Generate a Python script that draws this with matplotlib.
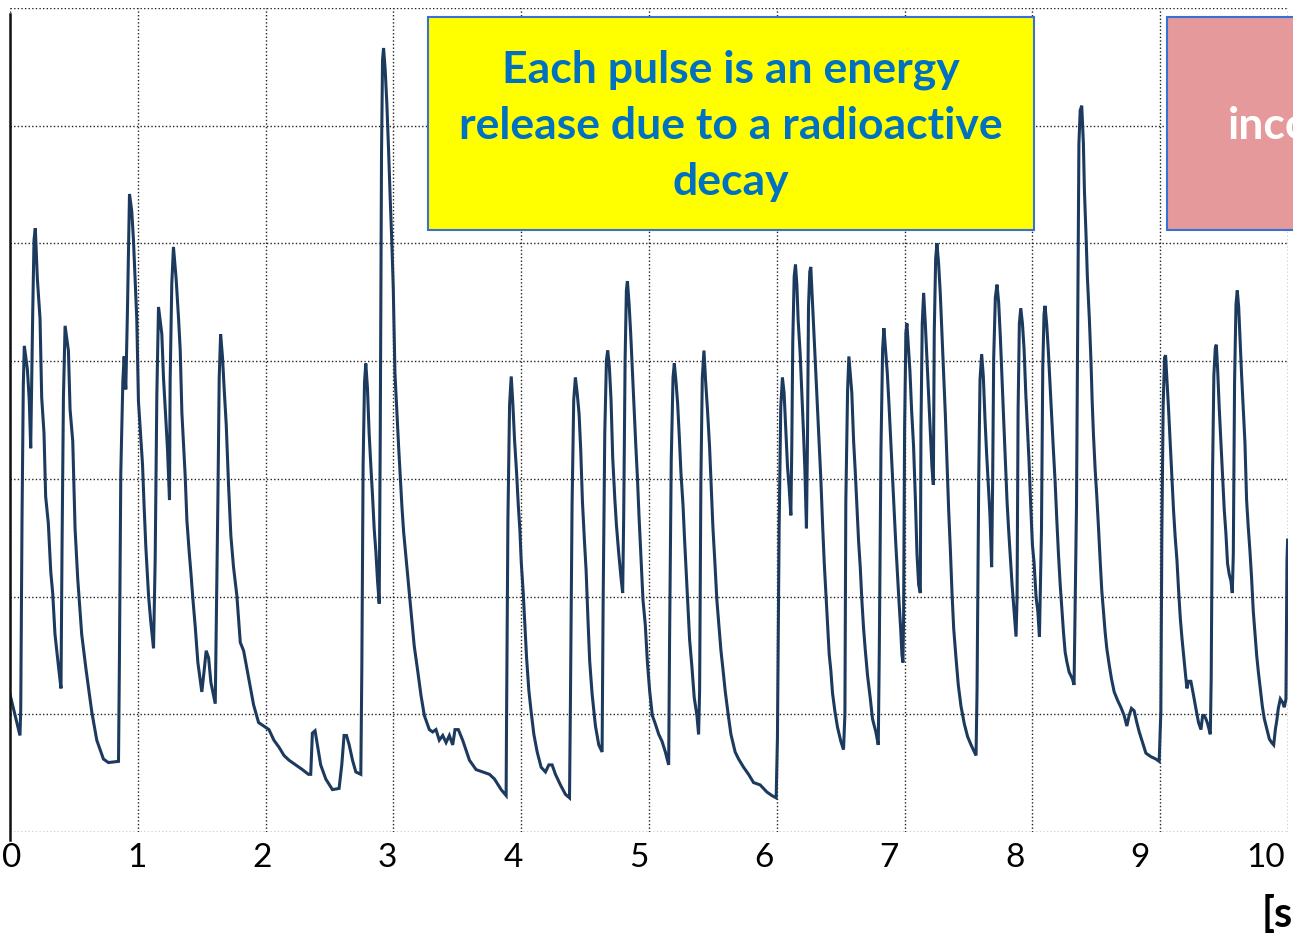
import matplotlib
matplotlib.use("Agg")
import matplotlib.pyplot as plt
from matplotlib.patches import Rectangle

# ---- data: detector signal vs time [s] ----
time_s = [
    0.000, 0.078, 0.084, 0.094, 0.104, 0.112, 0.136, 0.151, 0.162, 0.178, 0.188, 0.198, 0.214, 0.235, 0.248,
    0.266, 0.279, 0.300, 0.319, 0.334, 0.352, 0.379, 0.399, 0.407, 0.418, 0.431, 0.457, 0.470, 0.491, 0.509,
    0.530, 0.561, 0.595, 0.640, 0.679, 0.731, 0.770, 0.849, 0.856, 0.867, 0.883, 0.893, 0.906, 0.919, 0.935,
    0.953, 0.966, 0.979, 0.992, 1.005, 1.023, 1.037, 1.050, 1.063, 1.084, 1.102, 1.123, 1.136, 1.149, 1.162,
    1.188, 1.201, 1.219, 1.232, 1.248, 1.253, 1.266, 1.279, 1.300, 1.319, 1.332, 1.345, 1.358, 1.371, 1.384,
    1.402, 1.415, 1.431, 1.449, 1.470, 1.501, 1.520, 1.535, 1.554, 1.572, 1.606, 1.627, 1.637, 1.648, 1.663,
    1.676, 1.692, 1.710, 1.728, 1.749, 1.775, 1.802, 1.828, 1.867, 1.906, 1.945,
    2.026, 2.065, 2.105, 2.144, 2.183, 2.235, 2.288, 2.335, 2.353, 2.366, 2.387, 2.405, 2.431, 2.471, 2.523,
    2.575, 2.596, 2.614, 2.633, 2.654, 2.680, 2.706, 2.745, 2.753, 2.763, 2.774, 2.784, 2.797, 2.810, 2.824,
    2.837, 2.850, 2.863, 2.876, 2.889, 2.897, 2.907, 2.915, 2.923, 2.936, 2.949, 2.962, 2.975, 2.988, 2.999,
    3.012, 3.025, 3.041, 3.054, 3.067, 3.080, 3.098, 3.119, 3.137, 3.163, 3.190, 3.216, 3.242, 3.281, 3.307,
    3.333, 3.359, 3.386, 3.412, 3.438, 3.464, 3.482, 3.508, 3.542, 3.595, 3.647, 3.699, 3.752, 3.791, 3.843,
    3.882,
    3.885, 3.896, 3.909, 3.922, 3.935, 3.948, 3.964, 3.977, 3.990, 4.000, 4.016, 4.029, 4.042, 4.060, 4.078,
    4.099, 4.125, 4.156, 4.190, 4.216, 4.242, 4.268, 4.307, 4.346, 4.378, 4.385, 4.398, 4.411, 4.424, 4.438,
    4.453, 4.466, 4.479, 4.495, 4.508, 4.523, 4.536, 4.555, 4.581, 4.607, 4.633, 4.641, 4.654, 4.667, 4.677,
    4.690, 4.703, 4.716, 4.732, 4.745, 4.763, 4.781, 4.794, 4.802, 4.813, 4.823, 4.831, 4.844, 4.857, 4.870,
    4.883, 4.896, 4.909, 4.922, 4.938, 4.953, 4.971, 4.987, 5.005, 5.026, 5.049, 5.076, 5.102, 5.128, 5.154,
    5.161, 5.174, 5.188, 5.198, 5.211, 5.224, 5.237, 5.250, 5.266, 5.279, 5.292, 5.305, 5.318, 5.336, 5.354,
    5.375, 5.388, 5.396, 5.406, 5.417, 5.430, 5.443, 5.458, 5.474, 5.487, 5.500, 5.516, 5.531, 5.547, 5.563,
    5.578, 5.596, 5.617, 5.641, 5.674, 5.701, 5.740, 5.779, 5.818, 5.870, 5.922, 5.961, 5.995,
    6.005, 6.018, 6.031, 6.044, 6.057, 6.070, 6.084, 6.097, 6.110, 6.117, 6.125, 6.136, 6.146, 6.157, 6.167,
    6.183, 6.196, 6.209, 6.219, 6.232, 6.240, 6.248, 6.258, 6.266, 6.279, 6.292, 6.305, 6.319, 6.332, 6.345,
    6.358, 6.371, 6.384, 6.397, 6.410, 6.423, 6.436, 6.454, 6.475, 6.501, 6.522, 6.533, 6.540, 6.554, 6.564,
    6.574, 6.587, 6.601, 6.614, 6.627, 6.640, 6.653, 6.666, 6.679, 6.692, 6.710, 6.731, 6.749, 6.775, 6.794,
    6.802, 6.815, 6.828, 6.838, 6.851, 6.864, 6.877, 6.890, 6.903, 6.916, 6.930, 6.943, 6.956, 6.969, 6.979,
    6.987, 6.992, 7.000, 7.010, 7.018, 7.029, 7.042, 7.055, 7.070, 7.084, 7.097, 7.110, 7.123, 7.128, 7.138,
    7.149, 7.162, 7.175, 7.188, 7.201, 7.214, 7.225, 7.232, 7.243, 7.253, 7.266, 7.279, 7.292, 7.305, 7.319,
    7.332, 7.345, 7.358, 7.371, 7.384, 7.402, 7.420, 7.441, 7.467, 7.493, 7.520, 7.559, 7.567, 7.580, 7.590,
    7.603, 7.616, 7.629, 7.642, 7.655, 7.668, 7.681, 7.689, 7.697, 7.710, 7.723, 7.736, 7.749, 7.762, 7.775,
    7.789, 7.802, 7.815, 7.828, 7.841, 7.854, 7.872, 7.880, 7.888, 7.898, 7.909, 7.922, 7.935, 7.948, 7.961,
    7.974, 7.987, 8.000, 8.013, 8.029, 8.042, 8.055,
    8.071, 8.081, 8.091, 8.099, 8.112, 8.125, 8.138, 8.151, 8.164, 8.178, 8.191, 8.204, 8.217, 8.230, 8.243,
    8.256, 8.269, 8.287, 8.313, 8.326, 8.334, 8.345, 8.352, 8.358, 8.364, 8.374, 8.386, 8.399, 8.407, 8.420,
    8.430, 8.446, 8.459, 8.468, 8.478, 8.491, 8.504, 8.517, 8.530, 8.543, 8.556, 8.569, 8.582, 8.601, 8.619,
    8.640, 8.666, 8.692, 8.718, 8.739, 8.757, 8.775, 8.796, 8.817, 8.836, 8.862, 8.888, 8.927, 8.966, 8.992,
    9.005, 9.013, 9.023, 9.034, 9.042, 9.052, 9.065, 9.078, 9.091, 9.104, 9.117, 9.131, 9.144, 9.157, 9.170,
    9.183, 9.196, 9.209, 9.222, 9.240, 9.261, 9.279, 9.300, 9.319, 9.332, 9.345, 9.358, 9.371, 9.392, 9.399,
    9.410, 9.420, 9.431, 9.439, 9.449, 9.462, 9.475, 9.488, 9.501, 9.514, 9.527, 9.540, 9.554, 9.564, 9.572,
    9.582, 9.593, 9.603, 9.614, 9.624, 9.637, 9.650, 9.663, 9.676, 9.689, 9.702, 9.715, 9.728, 9.742, 9.755,
    9.768, 9.783, 9.799, 9.815, 9.836, 9.854, 9.872, 9.888, 9.901, 9.914, 9.924, 9.940, 9.958, 9.971, 9.984,
    9.992, 9.997,
]

signal = [
    1.17, 0.82, 1.04, 2.65, 3.79, 4.13, 3.93, 3.66, 3.26, 4.43, 5.03, 5.13, 4.70, 4.36, 3.69,
    3.39, 2.85, 2.62, 2.21, 2.03, 1.68, 1.41, 1.22, 2.40, 3.69, 4.30, 4.09, 3.59, 3.32, 2.58,
    2.15, 1.68, 1.38, 1.02, 0.78, 0.62, 0.59, 0.60, 1.44, 3.05, 3.83, 4.04, 3.76, 4.43, 5.42,
    5.27, 5.03, 4.70, 4.36, 3.66, 3.36, 3.12, 2.75, 2.42, 2.01, 1.78, 1.56, 2.32, 3.72, 4.46,
    4.23, 3.86, 3.52, 3.26, 2.82, 3.83, 4.66, 4.97, 4.70, 4.36, 4.09, 3.56, 3.29, 3.02, 2.65,
    2.38, 2.21, 1.98, 1.75, 1.44, 1.19, 1.38, 1.54, 1.48, 1.27, 1.09, 2.85, 3.86, 4.23, 4.03,
    3.76, 3.46, 2.95, 2.52, 2.25, 2.01, 1.61, 1.54, 1.31, 1.08, 0.93,
    0.87, 0.78, 0.72, 0.65, 0.61, 0.57, 0.53, 0.49, 0.49, 0.84, 0.86, 0.74, 0.57, 0.45, 0.36,
    0.37, 0.57, 0.82, 0.82, 0.74, 0.61, 0.51, 0.49, 1.39, 3.12, 3.82, 3.98, 3.77, 3.39, 3.10,
    2.85, 2.57, 2.38, 2.13, 1.94, 3.35, 5.76, 6.56, 6.66, 6.47, 6.18, 5.80, 5.38, 5.00, 4.62,
    3.90, 3.61, 3.27, 3.02, 2.76, 2.55, 2.34, 2.09, 1.88, 1.58, 1.37, 1.16, 0.99, 0.87, 0.85,
    0.87, 0.78, 0.82, 0.76, 0.82, 0.74, 0.87, 0.87, 0.78, 0.61, 0.53, 0.51, 0.49, 0.45, 0.36,
    0.31,
    0.89, 2.65, 3.63, 3.87, 3.63, 3.33, 3.05, 2.78, 2.56, 2.30, 2.03, 1.76, 1.48, 1.20, 1.02,
    0.83, 0.68, 0.55, 0.51, 0.57, 0.57, 0.49, 0.40, 0.32, 0.29, 1.08, 2.78, 3.67, 3.86, 3.73,
    3.55, 3.24, 2.81, 2.47, 2.22, 1.79, 1.45, 1.17, 0.90, 0.74, 0.68, 1.94, 3.39, 4.01, 4.09,
    3.95, 3.67, 3.18, 2.84, 2.61, 2.37, 2.16, 2.03, 2.68, 4.01, 4.60, 4.68, 4.49, 4.23, 3.92,
    3.61, 3.30, 3.02, 2.68, 2.31, 1.97, 1.76, 1.45, 1.20, 0.99, 0.92, 0.83, 0.77, 0.68, 0.57,
    1.63, 3.16, 3.86, 3.98, 3.83, 3.64, 3.36, 3.05, 2.78, 2.47, 2.19, 1.91, 1.63, 1.40, 1.14,
    0.99, 0.83, 1.20, 2.99, 3.86, 4.09, 3.83, 3.58, 3.27, 2.93, 2.59, 2.28, 1.97, 1.76, 1.54,
    1.39, 1.20, 1.02, 0.83, 0.68, 0.62, 0.55, 0.49, 0.42, 0.40, 0.34, 0.31, 0.29,
    0.80, 2.56, 3.61, 3.86, 3.73, 3.43, 3.10, 2.92, 2.69, 3.25, 4.17, 4.72, 4.82, 4.65, 4.35,
    4.06, 3.73, 3.39, 3.10, 2.58, 3.32, 4.46, 4.76, 4.80, 4.50, 4.21, 3.91, 3.58, 3.28, 2.99,
    2.62, 2.29, 2.03, 1.77, 1.51, 1.37, 1.18, 1.03, 0.89, 0.77, 0.70, 1.00, 2.80, 3.76, 4.04,
    3.91, 3.73, 3.32, 3.06, 2.77, 2.47, 2.25, 1.96, 1.73, 1.55, 1.33, 1.14, 0.96, 0.85, 0.74,
    1.55, 3.25, 4.10, 4.28, 4.10, 3.91, 3.65, 3.36, 3.06, 2.77, 2.47, 2.21, 1.96, 1.73, 1.51,
    1.44, 1.81, 3.43, 4.24, 4.32, 4.13, 3.91, 3.58, 3.28, 2.84, 2.36, 2.10, 2.03, 3.43, 4.32,
    4.58, 4.32, 4.02, 3.73, 3.43, 3.10, 2.95, 4.24, 4.87, 5.00, 4.83, 4.58, 4.24, 3.91, 3.54,
    3.14, 2.73, 2.40, 2.03, 1.73, 1.48, 1.25, 1.07, 0.92, 0.81, 0.74, 0.65, 1.22, 2.99, 3.84,
    4.06, 3.87, 3.51, 3.21, 2.95, 2.69, 2.25, 2.99, 4.02, 4.54, 4.65, 4.50, 4.21, 3.87, 3.51,
    3.14, 2.80, 2.55, 2.33, 2.10, 1.92, 1.66, 1.99, 3.58, 4.32, 4.45, 4.32, 4.10, 3.73, 3.43,
    3.14, 2.77, 2.44, 2.29, 1.99, 1.88, 1.66,
    2.56, 3.94, 4.40, 4.47, 4.31, 4.08, 3.80, 3.51, 3.25, 2.97, 2.65, 2.36, 2.11, 1.91, 1.70,
    1.53, 1.45, 1.36, 1.30, 1.25, 1.88, 2.77, 3.88, 4.89, 5.85, 6.13, 6.17, 5.85, 5.45, 5.06,
    4.72, 4.35, 3.98, 3.65, 3.37, 3.08, 2.85, 2.59, 2.31, 2.05, 1.88, 1.70, 1.56, 1.42, 1.30,
    1.19, 1.12, 1.06, 0.99, 0.90, 0.99, 1.05, 1.03, 0.93, 0.85, 0.76, 0.67, 0.64, 0.62, 0.60,
    1.02, 2.54, 3.62, 4.03, 4.05, 3.85, 3.60, 3.31, 3.02, 2.74, 2.51, 2.31, 2.05, 1.82, 1.65,
    1.50, 1.36, 1.22, 1.28, 1.28, 1.16, 1.05, 0.93, 0.87, 0.99, 0.99, 0.96, 0.92, 0.83, 1.30,
    3.08, 3.88, 4.11, 4.14, 3.94, 3.60, 3.31, 3.02, 2.74, 2.54, 2.28, 2.19, 2.13, 2.03, 2.36,
    3.83, 4.48, 4.60, 4.46, 4.20, 3.88, 3.60, 3.31, 2.82, 2.59, 2.39, 2.16, 1.88, 1.68, 1.50,
    1.36, 1.22, 1.07, 0.96, 0.87, 0.79, 0.76, 0.74, 0.87, 0.96, 1.05, 1.13, 1.10, 1.06, 1.13,
    2.31, 2.48,
]

x_ticks = [0, 1, 2, 3, 4, 5, 6, 7, 8, 9, 10]
x_tick_labels = ["0", "1", "2", "3", "4", "5", "6", "7", "8", "9", "10"]
y_grid = [0, 1, 2, 3, 4, 5, 6, 7]

note_lines = ["Each pulse is an energy", "release due to a radioactive", "decay"]
side_note = "inco"
unit_label = "[s"

W, H = 1293, 939
fig = plt.figure(figsize=(W / 100, H / 100), dpi=100)
fig.patch.set_facecolor("white")

def fx(px):
    return px / W

def fy(py):
    return 1 - py / H

ax = fig.add_axes([fx(10), fy(832), fx(1288) - fx(10), fy(8) - fy(832)])
ax.plot(time_s, signal, color="#1c3a5e", lw=2.2, solid_joinstyle="miter")
ax.set_xlim(0, 10)
ax.set_ylim(0, 7)
ax.set_xticks(x_ticks)
ax.set_yticks(y_grid)
ax.tick_params(length=0, labelbottom=False, labelleft=False)
ax.grid(True, color="#222222", lw=1.0, linestyle=(0, (1, 1.6)))
for s in ["top", "right", "bottom"]:
    ax.spines[s].set_visible(False)
ax.spines["left"].set_color("#111111")
ax.spines["left"].set_linewidth(1.8)
ax.spines["left"].set_bounds(-0.07, 6.95)

# tick labels (slightly offset scale as in the original slide)
ax2 = ax.twiny()
ax2.set_xlim(-0.012, 10.179)
ax2.xaxis.set_ticks_position("bottom")
ax2.xaxis.set_label_position("bottom")
ax2.set_xticks(x_ticks)
ax2.set_xticklabels(x_tick_labels, fontfamily="Lato", fontsize=24, color="black")
ax2.tick_params(length=0, pad=8)
for s in ax2.spines.values():
    s.set_visible(False)

# yellow annotation box
fig.add_artist(Rectangle((fx(428), fy(230)), fx(1034) - fx(428), fy(17) - fy(230),
                         transform=fig.transFigure, facecolor="#FFFF00",
                         edgecolor="#3a6fd6", lw=1.5, zorder=5))
for line, base in zip(note_lines, [83, 139, 195]):
    fig.text(fx(731), fy(base), line, ha="center", va="baseline", fontfamily="Lato",
             fontweight="bold", fontsize=32, color="#0070C0", zorder=6)

# pink annotation box (cut off at the right edge, as in the reference)
fig.add_artist(Rectangle((fx(1167), fy(230)), fx(1300) - fx(1167), fy(17) - fy(230),
                         transform=fig.transFigure, facecolor="#E6999A",
                         edgecolor="#3a6fd6", lw=1.5, zorder=5))
fig.text(fx(1228), fy(139), side_note, ha="left", va="baseline", fontfamily="Lato",
         fontweight="bold", fontsize=32, color="white", zorder=6)

fig.text(fx(1293), fy(927), unit_label, ha="right", va="baseline", fontfamily="Lato",
         fontweight="bold", fontsize=30, color="black")

fig.savefig("out.png", dpi=100)
